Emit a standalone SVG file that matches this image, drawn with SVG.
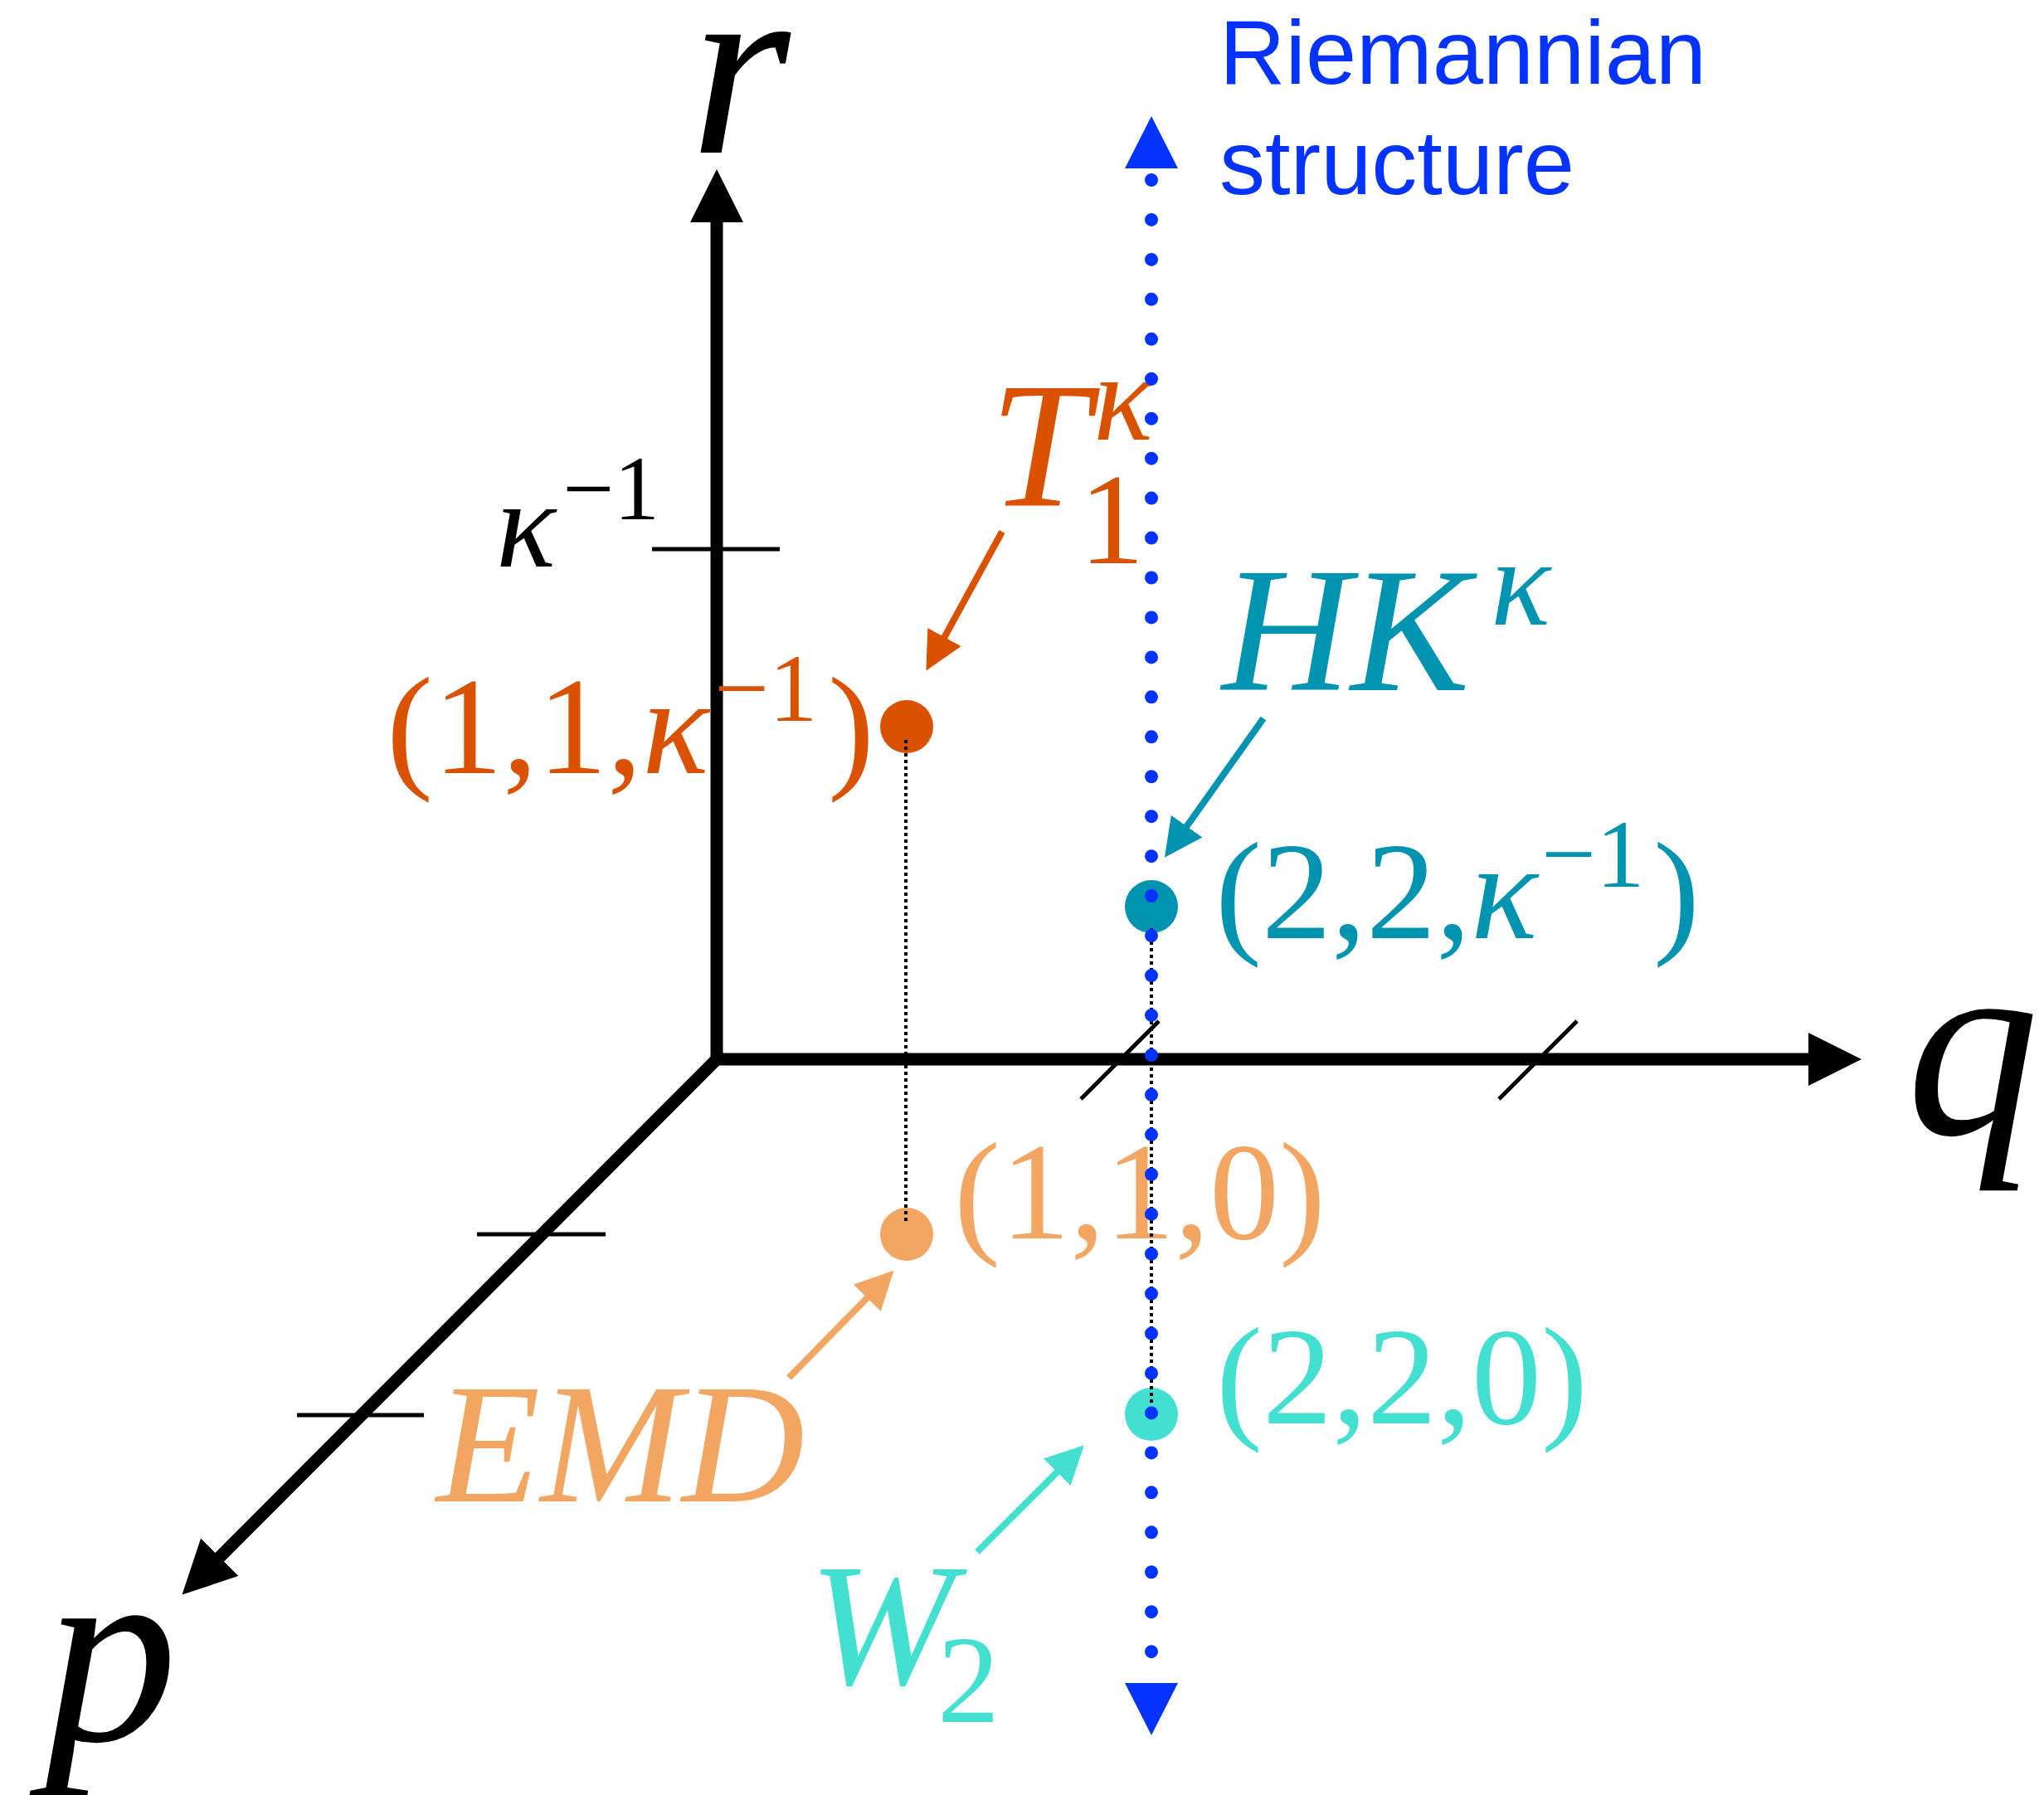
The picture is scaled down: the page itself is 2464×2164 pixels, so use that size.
<svg xmlns="http://www.w3.org/2000/svg" width="2464" height="2164" viewBox="0 0 2464 2164">
<style>
.serif{font-family:"Liberation Serif","Times New Roman",serif;}
.it{font-style:italic;}
.sans{font-family:"Liberation Sans",Arial,sans-serif;}
.axis{stroke:#000;stroke-width:15;fill:none;}
.tick{stroke:#000;stroke-width:5;fill:none;}
.guide{stroke:#000;stroke-width:4;stroke-dasharray:4 4;fill:none;}
.riem{stroke:#0433FF;stroke-width:16;stroke-linecap:round;stroke-dasharray:0 47.95;fill:none;}
.ptr{stroke-width:8;fill:none;}
.c-or{fill:#DA5100;}
.c-lo{fill:#F3A562;}
.c-tl{fill:#0094B0;}
.c-tq{fill:#43E0D2;}
</style>
<defs>
<marker id="ax" viewBox="0 -32 64 64" markerWidth="64" markerHeight="64" refX="1" refY="0" orient="auto" markerUnits="userSpaceOnUse"><path d="M0,-32 L64,0 L0,32 z" fill="#000"/></marker>
<marker id="m-or" viewBox="0 -23 46 46" markerWidth="46" markerHeight="46" refX="1" refY="0" orient="auto" markerUnits="userSpaceOnUse"><path d="M0,-23 L46,0 L0,23 z" fill="#DA5100"/></marker>
<marker id="m-lo" viewBox="0 -23 46 46" markerWidth="46" markerHeight="46" refX="1" refY="0" orient="auto" markerUnits="userSpaceOnUse"><path d="M0,-23 L46,0 L0,23 z" fill="#F3A562"/></marker>
<marker id="m-tl" viewBox="0 -23 46 46" markerWidth="46" markerHeight="46" refX="1" refY="0" orient="auto" markerUnits="userSpaceOnUse"><path d="M0,-23 L46,0 L0,23 z" fill="#0094B0"/></marker>
<marker id="m-tq" viewBox="0 -23 46 46" markerWidth="46" markerHeight="46" refX="1" refY="0" orient="auto" markerUnits="userSpaceOnUse"><path d="M0,-23 L46,0 L0,23 z" fill="#43E0D2"/></marker>
</defs>

<g id="axes">
<line class="axis" x1="864" y1="1284" x2="864" y2="267" marker-end="url(#ax)"/>
<line class="axis" x1="857" y1="1277" x2="2181" y2="1277" marker-end="url(#ax)"/>
<line class="axis" x1="867" y1="1274" x2="264" y2="1878" marker-end="url(#ax)"/>
<text class="serif it" x="832" y="184" font-size="310">r</text>
<text class="serif it" x="2298" y="1367" font-size="320">q</text>
<text class="serif it" x="54" y="2098" font-size="320">p</text>
</g>

<g id="ticks">
<line class="tick" x1="786" y1="662" x2="940" y2="662"/>
<line class="tick" x1="575" y1="1488" x2="730" y2="1488"/>
<line class="tick" x1="358" y1="1706" x2="511" y2="1706"/>
<line class="tick" x1="1303" y1="1325" x2="1397" y2="1231"/>
<line class="tick" x1="1807" y1="1325" x2="1901" y2="1231"/>
<text class="serif" y="683" font-size="150"><tspan class="it" x="598">κ</tspan><tspan x="678" y="626" font-size="110">−1</tspan></text>
</g>

<g id="node-T1k">
<circle class="c-or" cx="1093" cy="876" r="32"/>
<text class="serif" x="466" y="932" font-size="168" fill="#DA5100">(1,1,<tspan class="it">κ</tspan><tspan x="861" y="869" font-size="117">−1</tspan><tspan x="998" y="932">)</tspan></text>
<text class="serif it" x="1193" y="610" font-size="216" fill="#DA5100">T</text>
<text class="serif it" x="1318" y="530" font-size="150" fill="#DA5100">κ</text>
<text class="serif" x="1301" y="679" font-size="157" fill="#DA5100">1</text>
</g>

<g id="node-EMD">
<circle class="c-lo" cx="1093" cy="1488" r="32"/>
<text class="serif" x="1150" y="1493" font-size="168" fill="#F3A562">(1,1,0)</text>
<text class="serif it" x="526" y="1810" font-size="205" fill="#F3A562">EMD</text>
</g>

<g id="node-HK">
<circle class="c-tl" cx="1388" cy="1093" r="32"/>
<text class="serif" x="1465" y="1131" font-size="168" fill="#0094B0">(2,2,<tspan class="it">κ</tspan><tspan x="1858" y="1069" font-size="117">−1</tspan><tspan x="1993" y="1131">)</tspan></text>
<text class="serif it" x="1473" y="832" font-size="215" fill="#0094B0">HK</text>
<text class="serif it" x="1797" y="753" font-size="150" fill="#0094B0">κ</text>
</g>

<g id="node-W2">
<circle class="c-tq" cx="1388" cy="1705" r="32"/>
<text class="serif" x="1466" y="1716" font-size="168" fill="#43E0D2">(2,2,0)</text>
<text class="serif it" x="975" y="2030" font-size="210" fill="#43E0D2">W</text>
<text class="serif" x="1130" y="2076" font-size="150" fill="#43E0D2">2</text>
</g>

<g id="riemannian">
<text class="sans" x="1470" y="101" font-size="110" fill="#0433FF">Riemannian</text>
<text class="sans" x="1470" y="234" font-size="110" fill="#0433FF">structure</text>
</g>

<g id="connectors">
<line class="guide" x1="1092" y1="892" x2="1092" y2="1472"/>
<line class="guide" x1="1388" y1="1119" x2="1388" y2="1695"/>
<line class="riem" x1="1388" y1="217" x2="1388" y2="2000"/>
<path d="M1356,203 L1388,140 L1420,203 z" fill="#0433FF"/>
<path d="M1356,2029 L1388,2092 L1420,2029 z" fill="#0433FF"/>
<line class="ptr" stroke="#DA5100" x1="1208" y1="641" x2="1138" y2="769" marker-end="url(#m-or)"/>
<line class="ptr" stroke="#0094B0" x1="1523" y1="866" x2="1430" y2="997" marker-end="url(#m-tl)"/>
<line class="ptr" stroke="#F3A562" x1="951" y1="1661" x2="1046" y2="1564" marker-end="url(#m-lo)"/>
<line class="ptr" stroke="#43E0D2" x1="1178" y1="1871" x2="1275" y2="1774" marker-end="url(#m-tq)"/>
</g>
</svg>
